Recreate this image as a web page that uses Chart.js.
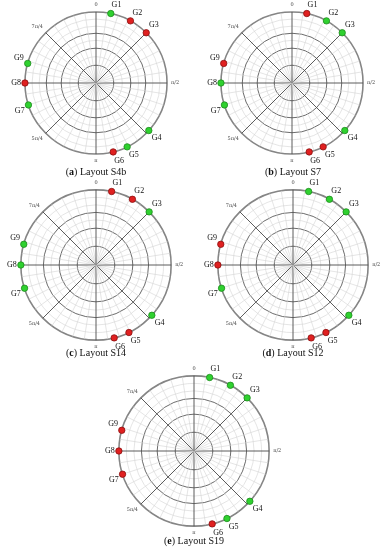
<!DOCTYPE html>
<html>
<head>
<meta charset="utf-8">
<script src="https://cdn.jsdelivr.net/npm/chart.js@4.4.1/dist/chart.umd.min.js"></script>
<style>
  body { margin: 0; background: #fff; }
  #page { position: relative; width: 389px; height: 550px; overflow: hidden; }
  canvas { position: absolute; }
  .cap { position: absolute; transform: translateX(-50%); font-family: "Liberation Serif", serif; font-size: 10px; color: #111; white-space: nowrap; }
</style>
</head>
<body>
<div id="page">
  <canvas id="cA" width="192" height="167" style="left:0px;top:0px"></canvas>
  <canvas id="cB" width="195" height="167" style="left:195px;top:0px"></canvas>
  <canvas id="cC" width="192" height="174" style="left:0px;top:178px"></canvas>
  <canvas id="cD" width="196" height="174" style="left:195px;top:178px"></canvas>
  <canvas id="cE" width="196" height="174" style="left:96px;top:364px"></canvas>
  <div class="cap" style="left:96px;top:166px">(<b>a</b>) Layout S4b</div>
  <div class="cap" style="left:293px;top:166px">(<b>b</b>) Layout S7</div>
  <div class="cap" style="left:96px;top:347px">(<b>c</b>) Layout S14</div>
  <div class="cap" style="left:293px;top:347px">(<b>d</b>) Layout S12</div>
  <div class="cap" style="left:194px;top:535px">(<b>e</b>) Layout S19</div>
</div>
<script>
// gene positions on the circle (degrees, clockwise from top)
var genes = ['G1', 'G2', 'G3', 'G4', 'G5', 'G6', 'G7', 'G8', 'G9'];
var geneAngles = [12, 29, 45, 132, 154, 166, 252, 270, 286];
var geneRadius = [1, 1, 1, 1, 1, 1, 1, 1, 1];

// angular tick labels shown on the plots
var angleTicks = ['0', 'π/2', 'π', '5π/4', '7π/4'];
var angleTickDeg = [0, 90, 180, 225, 315];

// radial rings
var rings = [0, 0.25, 0.37, 0.49, 0.6, 0.7, 0.8, 0.9, 1];
var darkRings = [0.25, 0.49, 0.7];

// state of each gene per layout: 1 = on (green), 0 = off (red)
var layoutS4b = [1, 0, 0, 1, 1, 0, 1, 0, 1];
var layoutS7  = [0, 1, 1, 1, 0, 0, 1, 1, 0];
var layoutS14 = [0, 0, 1, 1, 0, 0, 1, 1, 1];
var layoutS12 = [1, 1, 1, 1, 0, 0, 1, 0, 0];
var layoutS19 = [1, 1, 1, 1, 1, 0, 0, 0, 0];

var N = 360;

function drawLayout(id, states) {
    var labels = [];
    var values = [];
    var fills = [];
    var edges = [];
    for (var i = 0; i < N; i++) {
        labels.push('');
        values.push(null);
        fills.push('rgba(0,0,0,0)');
        edges.push('rgba(0,0,0,0)');
    }
    for (var t = 0; t < angleTicks.length; t++) {
        labels[angleTickDeg[t]] = angleTicks[t];
    }
    for (var g = 0; g < genes.length; g++) {
        var k = geneAngles[g];
        labels[k] = genes[g];
        values[k] = geneRadius[g];
        fills[k] = states[g] ? '#2fd12f' : '#e02020';
        edges[k] = states[g] ? '#1d8a1d' : '#8a1010';
    }

    var ctx = document.getElementById(id).getContext('2d');
    new Chart(ctx, {
        type: 'radar',
        data: {
            labels: labels,
            datasets: [{
                data: values,
                showLine: false,
                fill: false,
                borderWidth: 0,
                pointRadius: 3.2,
                pointBorderWidth: 0.8,
                pointBackgroundColor: fills,
                pointBorderColor: edges
            }]
        },
        options: {
            responsive: false,
            animation: false,
            devicePixelRatio: 1,
            plugins: { legend: { display: false }, tooltip: { enabled: false } },
            layout: { padding: 0 },
            scales: {
                r: {
                    min: 0,
                    max: 1,
                    afterBuildTicks: function (s) {
                        s.ticks = rings.map(function (v) { return { value: v }; });
                    },
                    ticks: { display: false },
                    grid: {
                        circular: true,
                        color: function (c) {
                            var v = c.tick ? c.tick.value : 0;
                            if (v === 1) return '#858585';
                            return darkRings.indexOf(v) >= 0 ? '#5a5a5a' : '#d4d4d4';
                        },
                        lineWidth: function (c) {
                            var v = c.tick ? c.tick.value : 0;
                            if (v === 1) return 1.6;
                            return darkRings.indexOf(v) >= 0 ? 0.9 : 0.6;
                        }
                    },
                    angleLines: {
                        color: function (c) {
                            return c.index % 45 === 0 ? '#4a4a4a' : '#d4d4d4';
                        },
                        lineWidth: function (c) {
                            if (c.index % 45 === 0) return 0.9;
                            if (c.index % 9 === 0) return 0.6;
                            return 0;
                        }
                    },
                    pointLabels: {
                        padding: 4,
                        color: function (c) {
                            return c.label.charAt(0) === 'G' ? '#111' : '#444';
                        },
                        font: function (c) {
                            if (c.label.charAt(0) === 'G') return { family: 'Liberation Serif', size: 8 };
                            if (c.label === '') return { size: 1 };
                            return { family: 'DejaVu Serif', size: 5 };
                        }
                    }
                }
            }
        }
    });
}

drawLayout('cA', layoutS4b);
drawLayout('cB', layoutS7);
drawLayout('cC', layoutS14);
drawLayout('cD', layoutS12);
drawLayout('cE', layoutS19);
</script>
</body>
</html>
